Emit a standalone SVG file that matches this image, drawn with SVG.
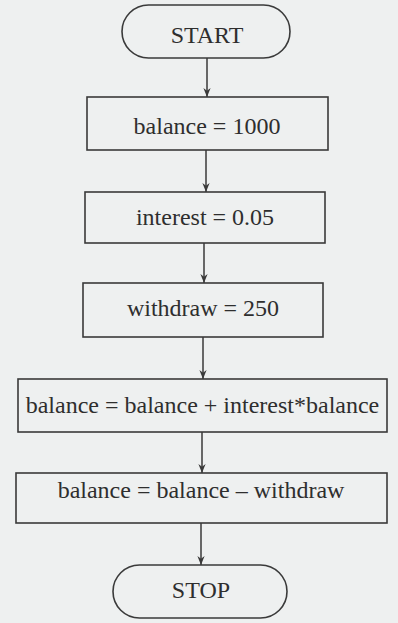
<svg xmlns="http://www.w3.org/2000/svg" width="398" height="623" viewBox="0 0 398 623">
<defs>
<style>
.shape{fill:none;stroke:#3a3a3a;stroke-width:1.6}
.lbl{font-family:"Liberation Serif","Times New Roman",serif;font-size:24px;fill:#2e2e2e;text-anchor:middle}
.conn{stroke:#3a3a3a;stroke-width:1.5;fill:none;marker-end:url(#arr)}
</style>
<marker id="arr" viewBox="0 0 10 10" refX="10" refY="5" markerWidth="9" markerHeight="9" markerUnits="userSpaceOnUse" orient="auto">
<path d="M0,1 L10,5 L0,9 L3,5 Z" fill="#3a3a3a"/>
</marker>
</defs>
<rect x="0" y="0" width="398" height="623" fill="#eef0f0"/>
<g id="start">
<rect class="shape" x="122" y="5" width="168" height="53" rx="26.5" ry="26.5"/>
<text class="lbl" x="207" y="43">START</text>
</g>
<g id="n1">
<rect class="shape" x="87" y="97" width="241" height="53"/>
<text class="lbl" x="207" y="134">balance = 1000</text>
</g>
<g id="n2">
<rect class="shape" x="85" y="192" width="240" height="51"/>
<text class="lbl" x="205" y="225">interest = 0.05</text>
</g>
<g id="n3">
<rect class="shape" x="83" y="283" width="240" height="54"/>
<text class="lbl" x="203" y="316">withdraw = 250</text>
</g>
<g id="n4">
<rect class="shape" x="18" y="379" width="369" height="53"/>
<text class="lbl" x="202.5" y="413">balance = balance + interest*balance</text>
</g>
<g id="n5">
<rect class="shape" x="16" y="473" width="371" height="50"/>
<text class="lbl" x="201" y="498">balance = balance – withdraw</text>
</g>
<g id="stop">
<rect class="shape" x="113" y="565" width="174" height="53" rx="26.5" ry="26.5"/>
<text class="lbl" x="201" y="598">STOP</text>
</g>
<g id="connectors">
<line class="conn" x1="207" y1="58" x2="207" y2="97"/>
<line class="conn" x1="206" y1="150" x2="206" y2="192"/>
<line class="conn" x1="204" y1="243" x2="204" y2="283"/>
<line class="conn" x1="203" y1="337" x2="203" y2="379"/>
<line class="conn" x1="202" y1="432" x2="202" y2="473"/>
<line class="conn" x1="201" y1="523" x2="201" y2="565"/>
</g>
</svg>
